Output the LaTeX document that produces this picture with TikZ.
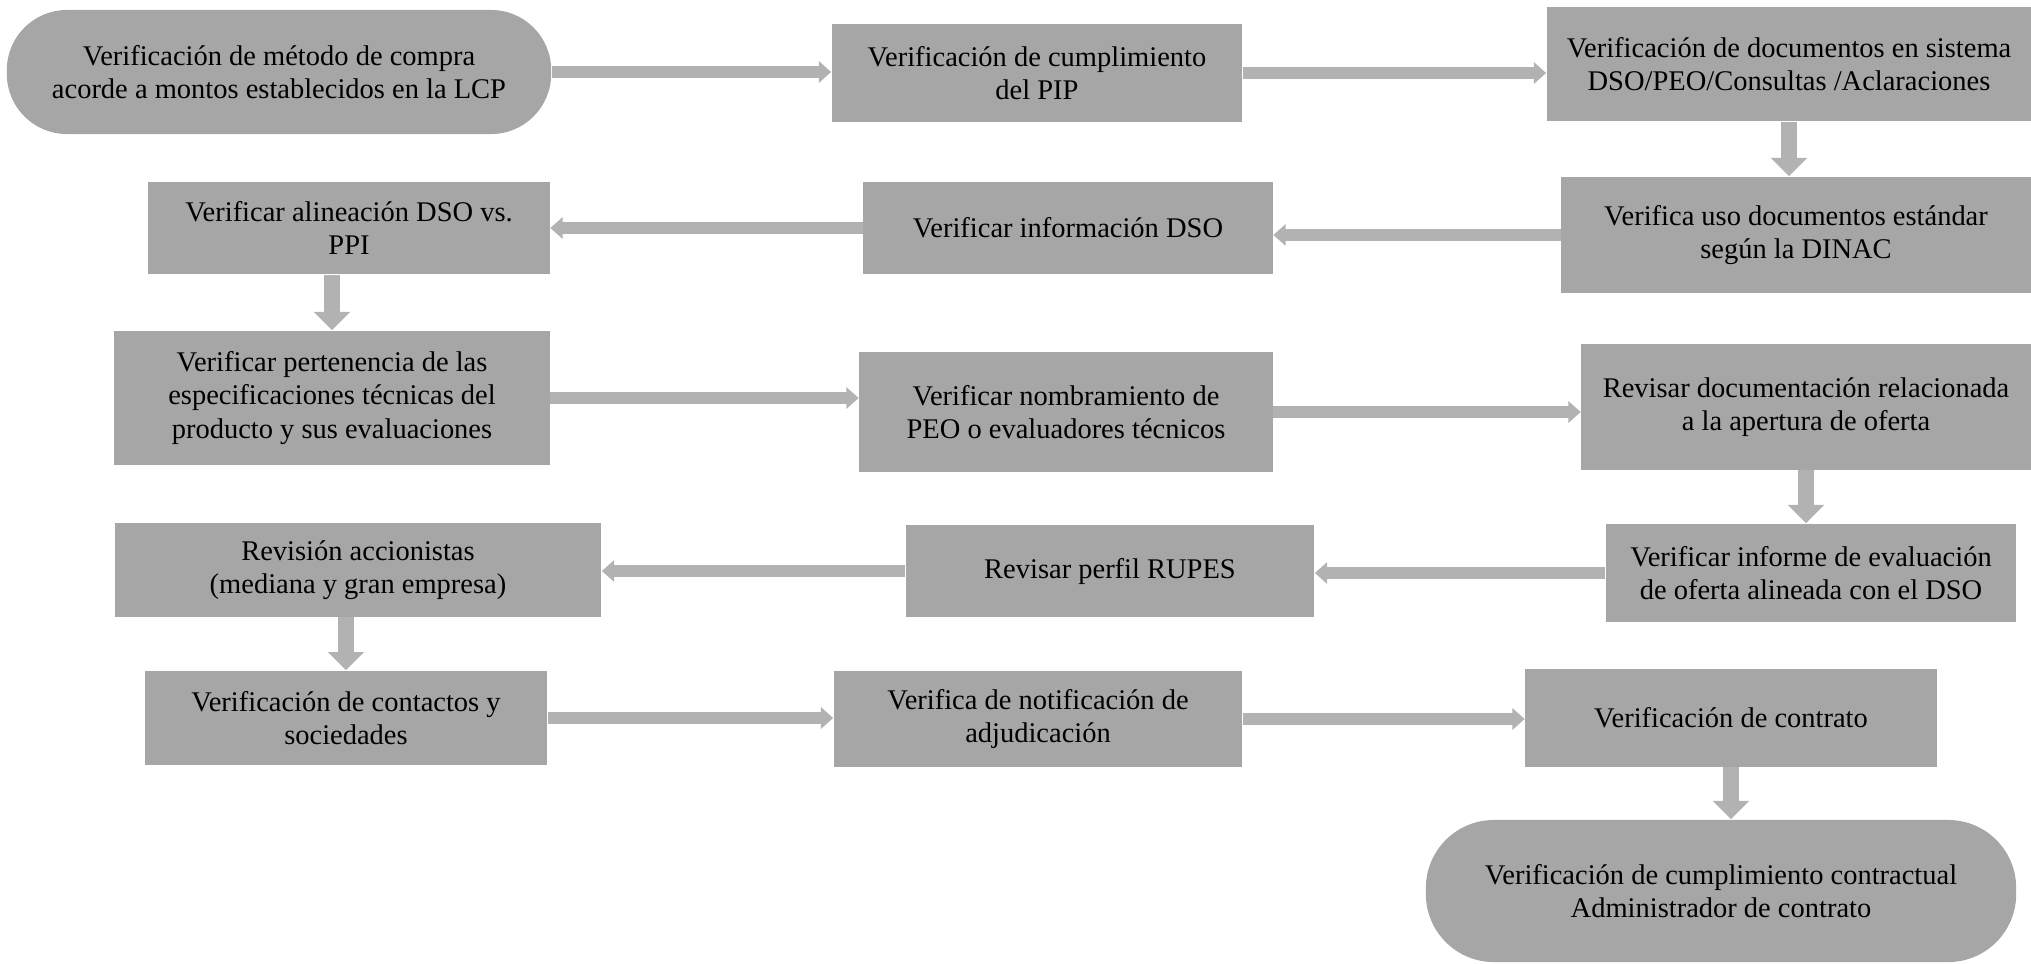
\documentclass[tikz,border=0pt]{standalone}
\usepackage{fontspec}
\setmainfont{Liberation Serif}
\usetikzlibrary{arrows.meta}
\definecolor{boxgray}{RGB}{166,166,166}
\definecolor{arrowgray}{RGB}{178,178,178}

\begin{document}
\begin{tikzpicture}[x=0.01cm, y=-0.01cm,
  box/.style={fill=boxgray, inner sep=0pt, align=center, font=\fontsize{8.1}{9.5}\selectfont},
  pill/.style={box, rounded corners=0.6cm},
  harrow/.style={draw=arrowgray, line width=3.4pt, -{Triangle[width=6pt,length=3.5pt]}},
  varrow/.style={draw=arrowgray, line width=4.8pt, -{Triangle[width=10pt,length=5.2pt]}}]
\useasboundingbox (0,0) rectangle (2031,963);
% row 1
\node[pill, minimum width=5.44cm, minimum height=1.24cm] (a1) at (279,72) {Verificación de método de compra\\acorde a montos establecidos en la LCP};
\node[box, minimum width=4.10cm, minimum height=0.97cm] (a2) at (1037,73) {Verificación de cumplimiento\\del PIP};
\node[box, minimum width=4.84cm, minimum height=1.14cm] (a3) at (1789,64) {Verificación de documentos en sistema\\DSO/PEO/Consultas /Aclaraciones};
% row 2
\node[box, minimum width=4.01cm, minimum height=0.92cm] (b1) at (349,228) {Verificar alineación DSO vs.\\PPI};
\node[box, minimum width=4.09cm, minimum height=0.91cm] (b2) at (1068,228) {Verificar información DSO};
\node[box, minimum width=4.69cm, minimum height=1.16cm] (b3) at (1796,235) {Verifica uso documentos estándar\\según la DINAC};
% row 3
\node[box, minimum width=4.35cm, minimum height=1.34cm] (c1) at (332,398) {Verificar pertenencia de las\\especificaciones técnicas del\\producto y sus evaluaciones};
\node[box, minimum width=4.13cm, minimum height=1.20cm] (c2) at (1066,412) {Verificar nombramiento de\\PEO o evaluadores técnicos};
\node[box, minimum width=4.49cm, minimum height=1.25cm] (c3) at (1806,407) {Revisar documentación relacionada\\a la apertura de oferta};
% row 4
\node[box, minimum width=4.86cm, minimum height=0.93cm] (d1) at (358,570) {Revisión accionistas\\(mediana y gran empresa)};
\node[box, minimum width=4.08cm, minimum height=0.92cm] (d2) at (1110,571) {Revisar perfil RUPES};
\node[box, minimum width=4.10cm, minimum height=0.98cm] (d3) at (1811,573) {Verificar informe de evaluación\\de oferta alineada con el DSO};
% row 5
\node[box, minimum width=4.02cm, minimum height=0.94cm] (e1) at (346,718) {Verificación de contactos y\\sociedades};
\node[box, minimum width=4.08cm, minimum height=0.96cm] (e2) at (1038,719) {Verifica de notificación de\\adjudicación};
\node[box, minimum width=4.11cm, minimum height=0.97cm] (e3) at (1731,718) {Verificación de contrato};
\node[pill, rounded corners=0.68cm, minimum width=5.90cm, minimum height=1.42cm] (f) at (1721,891) {Verificación de cumplimiento contractual\\Administrador de contrato};
% arrows
\foreach \a/\b in {a1/a2,a2/a3,c1/c2,c2/c3,e1/e2,e2/e3}
  \draw[harrow] (\a.east) -- (\a.east -| \b.west);
\foreach \a/\b in {b3/b2,b2/b1,d3/d2,d2/d1}
  \draw[harrow] (\a.west) -- (\a.west -| \b.east);
\foreach \a/\b in {a3/b3,c3/d3,e3/f}
  \draw[varrow] (\a.south) -- (\a.south |- \b.north);
\foreach \a/\b in {b1/c1,d1/e1}
  \draw[varrow] (\b.north |- \a.south) -- (\b.north);
\end{tikzpicture}
\end{document}
